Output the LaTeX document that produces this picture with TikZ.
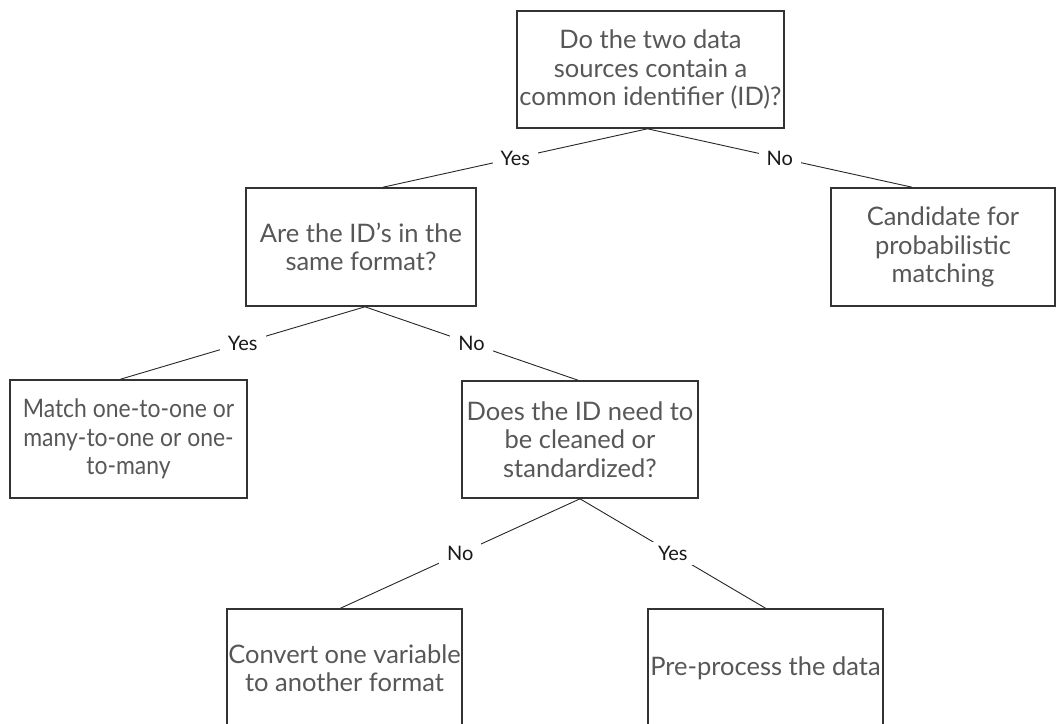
\documentclass[tikz,border=0pt]{standalone}
\usepackage{fontspec}
\setmainfont{Lato}
\newfontfamily\tightfont[FakeStretch=0.9]{Lato}
\begin{document}
\begin{tikzpicture}[x=1pt,y=-1pt,
  box/.style={draw=black!80,line width=1.6pt,rectangle,inner sep=0pt,align=center,
    text=black!66,font=\fontsize{25.5}{28.5}\selectfont},
  conn/.style={draw=black!85,line width=0.9pt},
  lbl/.style={fill=white,inner xsep=8pt,inner ysep=4pt,text=black!90,font=\fontsize{20}{22}\selectfont}]
\useasboundingbox (0,0) rectangle (1057,723);
\node[box,minimum width=267pt,minimum height=117pt] (q1) at (650.5,69.5)
  {Do the two data\\sources contain a\\common identifier (ID)?};
\node[box,minimum width=230pt,minimum height=118pt] (q2) at (361,247)
  {Are the ID’s in the\\same format?};
\node[box,minimum width=224pt,minimum height=118pt] (cand) at (943,247)
  {Candidate for\\probabilistic\\matching};
\node[box,minimum width=237pt,minimum height=118pt,
  font=\tightfont\fontsize{25.5}{28.5}\selectfont] (match) at (128.5,439)
  {Match one-to-one or\\many-to-one or one-\\to-many};
\node[box,minimum width=236pt,minimum height=117pt] (q3) at (580,439.5)
  {Does the ID need to\\be cleaned or\\standardized?};
\node[box,minimum width=235pt,minimum height=118pt] (conv) at (344.5,668)
  {Convert one variable\\to another format};
\node[box,minimum width=235pt,minimum height=118pt] (pre) at (765.5,668)
  {Pre-process the data};
\draw[conn] ([xshift=-3pt]q1.south) -- node[lbl]{Yes} ([xshift=22pt]q2.north);
\draw[conn] ([xshift=-3pt]q1.south) -- node[lbl]{No} ([xshift=-31pt]cand.north);
\draw[conn] ([xshift=4pt]q2.south) -- node[lbl]{Yes} ([xshift=-8pt]match.north);
\draw[conn] ([xshift=4pt]q2.south) -- node[lbl]{No} ([xshift=-2pt]q3.north);
\draw[conn] (q3.south) -- node[lbl]{No} ([xshift=-4pt]conv.north);
\draw[conn] (q3.south) -- node[lbl]{Yes} (pre.north);
\end{tikzpicture}
\end{document}
